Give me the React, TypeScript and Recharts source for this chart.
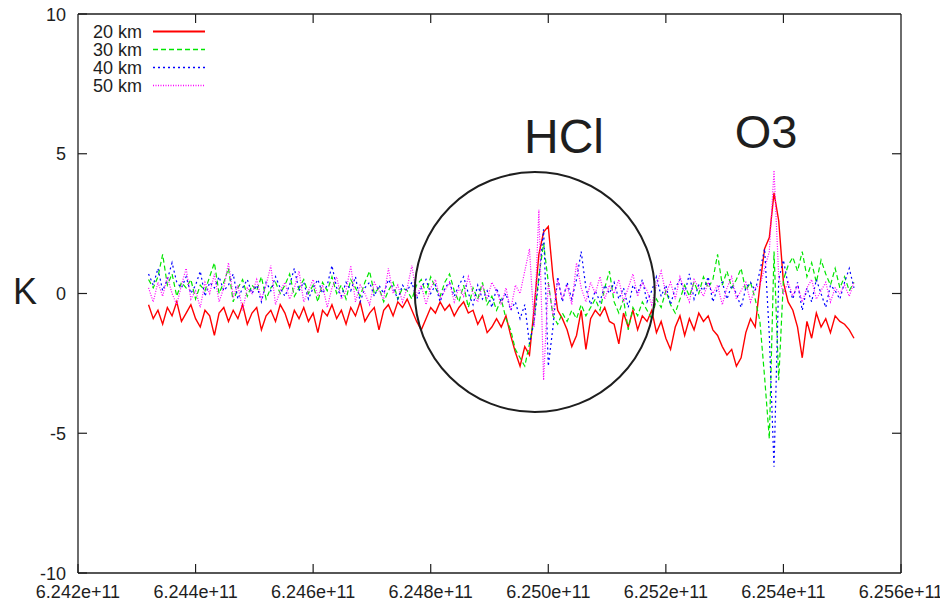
import React from 'react';
import {
  LineChart,
  Line,
  XAxis,
  YAxis,
  Legend,
  ReferenceDot,
  Customized,
} from 'recharts';

// frequency grid (Hz): first channel + spacing, 151 channels
const FREQ_START = 6.2432e11;
const FREQ_STEP = 8e6;

const X_TICKS = [6.242e11, 6.244e11, 6.246e11, 6.248e11, 6.25e11, 6.252e11, 6.254e11, 6.256e11];
const Y_TICKS = [-10, -5, 0, 5, 10];

// brightness temperature difference (K) per altitude
const km20 = [
  -0.4, -0.9, -0.6, -1.1, -0.5, -0.8, -0.3, -1.0, -0.7, -0.4,
  -0.9, -1.2, -0.6, -0.8, -1.5, -0.7, -0.5, -1.0, -0.6, -0.9,
  -0.4, -1.1, -0.7, -0.5, -1.3, -0.8, -0.6, -1.0, -0.4, -0.7,
  -1.2, -0.6, -0.9, -0.5, -1.0, -0.7, -1.4, -0.6, -0.8, -0.4,
  -0.9, -0.6, -1.1, -0.5, -0.8, -0.3, -1.0, -0.7, -0.5, -1.3,
  -0.6, -0.4, -0.8, -0.3, -0.5, -0.2, -0.6, -1.0, -1.3, -0.9,
  -0.5, -0.7, -0.3, -0.6, -0.4, -0.8, -0.5, -0.3, -0.7, -0.6,
  -1.1, -0.8, -1.4, -1.2, -0.9, -1.2, -0.8, -1.5, -2.1, -2.6,
  -1.9, -2.2, -0.5, 1.4, 2.2, 2.4, 0.6, -0.6, -0.9, -1.3,
  -1.9, -1.5, -0.6, -2.0, -0.9, -0.6, -0.8, -0.5, -1.0, -1.1,
  -1.8, -0.7, -1.2, -0.6, -1.3, -0.8, -1.0, -0.6, -1.4, -1.0,
  -1.6, -2.0, -1.2, -0.8, -1.5, -0.9, -1.3, -0.7, -1.0, -0.8,
  -1.3, -1.5, -1.9, -2.2, -2.0, -2.6, -2.3, -1.4, -0.9, -1.2,
  0.3, 1.6, 2.0, 3.6, 2.6, 0.4, -0.3, -0.6, -1.2, -2.3,
  -1.0, -1.6, -0.7, -1.2, -0.9, -1.4, -0.8, -1.0, -1.1, -1.3,
  -1.6,
];

const km30 = [
  0.5, 0.2, 0.6, 1.4, 0.3, 0.7, -0.1, 0.4, 0.2, 0.5,
  -0.2, 0.3, 0.1, 0.6, 1.1, 0.0, 0.4, 0.9, -0.3, 0.2,
  0.5, -0.1, 0.3, 0.1, 0.6, -0.2, 0.2, 0.4, 0.0, 0.3,
  0.7, -0.1, 0.2, 0.5, 0.0, 0.3, -0.3, 0.4, 0.1, 0.6,
  0.0, 0.3, -0.2, 0.5, 0.2, -0.1, 0.4, 0.8, 0.0, 0.2,
  -0.3, 0.1, 0.4, -0.2, 0.2, 0.1, -0.2, 0.3, 0.5, 0.0,
  0.6, 0.2, -0.1, 0.4, 0.7, 0.1, -0.3, 0.3, -0.5, 0.2,
  -0.2, 0.4, -0.4, -0.1, -0.6, -0.2, -0.9, -1.3, -2.0, -2.3,
  -2.6, -1.8, -0.9, 0.6, 1.8, 0.4, -0.8, -1.1, -0.7, -1.0,
  -0.6, -0.9, -0.4, -0.8, -0.5, -0.2, -0.6, 0.2, 0.8, -0.3,
  -0.7, -0.2, -1.3, -0.5, -0.8, -0.3, -0.6, -0.9, -0.2, -0.5,
  0.1, -0.4, -0.7, -0.2, 0.3, -0.1, 0.4, 0.0, 0.6, 0.2,
  0.5, 1.4, 0.3, 0.8, 0.2, 0.5, 0.9, 0.1, 0.4, -0.2,
  -1.0, -3.0, -5.2, 1.5, -3.1, 0.5, 1.0, 1.3, 0.8, 1.5,
  0.6, 1.1, 0.4, 1.2, 0.7, 0.3, 0.9, 0.2, 0.6, 0.1,
  0.4,
];

const km40 = [
  0.7, 0.3, 0.9, 0.1, 0.5, 1.1, 0.4, 0.2, 0.6, 0.0,
  0.3, 0.8, -0.1, 0.4, 0.2, 0.6, 0.1, 0.3, 0.7, -0.2,
  0.2, 0.5, 0.0, 0.3, -0.3, 0.4, 0.1, 0.6, 0.2, -0.1,
  0.3, 0.9, 0.1, 0.4, -0.2, 0.2, 0.5, 0.0, 0.3, 1.0,
  0.2, -0.1, 0.4, 0.1, 0.6, -0.3, 0.2, 0.4, -0.1, 0.3,
  0.0, 0.5, 0.2, -0.2, 0.3, 0.1, 0.4, -0.2, 0.2, 0.5,
  0.0, 0.3, -0.3, 0.2, 0.4, -0.1, 0.3, 0.6, 0.0, -0.4,
  0.3, -0.2, 0.1, -0.5, 0.2, -0.3, 0.0, -0.6, -0.3, -0.9,
  -0.4, -1.8, -1.0, 0.5, 2.3, -2.6, -1.2, 0.6, -0.3, 0.4,
  -0.2, 0.5, 1.5, 0.2, -0.4, 0.1, -0.3, 0.3, 0.0, 0.4,
  -0.2, 0.2, -0.5, 0.3, 0.0, 0.5, -0.3, 0.1, 0.6, -0.1,
  0.3, -0.4, 0.2, 0.5, 0.0, 0.7, -0.2, 0.3, 0.1, 0.6,
  -0.3, 0.2, 0.4, -0.2, 0.3, 0.0, -0.5, 0.2, 0.4, 0.1,
  0.8, 1.6, -1.5, -6.2, 0.5, 1.2, 0.3, -0.2, 0.4, -0.6,
  0.2, -0.3, 0.5, 0.0, -0.5, 0.3, 0.1, -0.2, 0.4, 0.9,
  0.2,
];

const km50 = [
  0.2, -0.3, 0.4, -0.1, 0.6, 0.0, -0.4, 0.3, 0.9, -0.2,
  0.1, -0.5, 0.4, 0.0, 0.7, -0.3, 0.2, 1.1, -0.1, 0.3,
  -0.6, 0.2, 0.0, 0.5, -0.2, 0.3, 1.0, -0.4, 0.1, 0.4,
  -0.2, 0.2, 0.8, -0.3, 0.1, 0.5, -0.1, 0.3, -0.5, 0.2,
  0.6, -0.2, 0.1, 1.0, -0.3, 0.3, 0.0, -0.4, 0.4, 0.1,
  -0.2, 0.9, 0.0, 0.3, -0.3, 0.2, 1.0, -0.1, 0.3, -0.4,
  0.2, 0.5, -0.2, 0.1, 0.4, -0.3, 0.2, -0.1, 0.6, 0.0,
  -0.3, 0.3, -0.2, 0.4, 0.1, -0.4, 0.2, -0.6, 0.3, 0.0,
  0.8, 1.6, -1.2, 3.0, -3.1, 0.4, -0.8, 0.5, -0.2, 0.3,
  -0.4, 1.1, 0.2, -0.3, 0.4, 0.0, 0.6, -0.2, 0.3, 0.0,
  0.5, -0.3, 0.2, 0.7, -0.1, 0.4, 0.1, -0.4, 0.3, 0.8,
  0.0, 0.4, -0.2, 0.6, 0.1, -0.3, 0.5, 0.2, -0.1, 0.4,
  0.0, 0.3, -0.4, 0.2, 0.6, -0.2, 0.1, 0.4, -0.3, 0.2,
  0.3, 0.9, 1.5, 4.4, 0.6, 0.0, 0.4, -0.1, 0.3, -0.3,
  0.2, 0.5, -0.2, 0.1, 0.4, -0.3, 0.2, 0.0, 0.3, -0.1,
  0.4,
];

const SERIES = [
  { key: 'km20', name: '20 km', color: '#ff0000', dash: undefined, width: 1.4 },
  { key: 'km30', name: '30 km', color: '#00e600', dash: '5 3', width: 1.2 },
  { key: 'km40', name: '40 km', color: '#0000ff', dash: '2 3', width: 1.2 },
  { key: 'km50', name: '50 km', color: '#ff00ff', dash: '1 1.5', width: 1.2 },
];

// circled HCl feature
const HCL_CENTER = { f: 6.24977e11, k: 0.05 };

const data = km20.map((v, i) => ({
  f: FREQ_START + i * FREQ_STEP,
  km20: v,
  km30: km30[i],
  km40: km40[i],
  km50: km50[i],
}));

const FONT = '"Liberation Sans", Arial, sans-serif';
const INK = '#1e1e1e';
const TICK_LEN = 9;

const fmtFreq = (v: number) => `${(v / 1e11).toFixed(3)}e+11`;

const BottomTick = ({ x, y, payload }: any) => (
  <g>
    <line x1={x} y1={y} x2={x} y2={y - TICK_LEN} stroke={INK} strokeWidth={1.2} />
    <text x={x} y={y + 25} textAnchor="middle" fontSize={18} fontFamily={FONT} fill={INK}>
      {fmtFreq(payload.value)}
    </text>
  </g>
);

const TopTick = ({ x, y }: any) => (
  <line x1={x} y1={y} x2={x} y2={y + TICK_LEN} stroke={INK} strokeWidth={1.2} />
);

const LeftTick = ({ x, y, payload }: any) => (
  <g>
    <line x1={x} y1={y} x2={x + TICK_LEN} y2={y} stroke={INK} strokeWidth={1.2} />
    <text x={x - 12} y={y + 6.5} textAnchor="end" fontSize={18} fontFamily={FONT} fill={INK}>
      {payload.value}
    </text>
  </g>
);

const RightTick = ({ x, y }: any) => (
  <line x1={x} y1={y} x2={x - TICK_LEN} y2={y} stroke={INK} strokeWidth={1.2} />
);

const KeyBox = () => (
  <svg width={130} height={80} style={{ display: 'block' }}>
    {SERIES.map((s, k) => (
      <g key={s.key}>
        <text x={5} y={11.5 + k * 18 + 6} fontSize={18} fontFamily={FONT} fill={INK}>
          {s.name}
        </text>
        <line
          x1={65}
          x2={117}
          y1={11.5 + k * 18}
          y2={11.5 + k * 18}
          stroke={s.color}
          strokeWidth={s.width + 0.4}
          strokeDasharray={s.dash}
        />
      </g>
    ))}
  </svg>
);

const Annotations = () => (
  <g fontFamily={FONT} fill={INK}>
    <text x={564} y={153} textAnchor="middle" fontSize={48}>HCl</text>
    <text x={766} y={148} textAnchor="middle" fontSize={47}>O3</text>
    <text x={25} y={304} textAnchor="middle" fontSize={36}>K</text>
  </g>
);

export default function App() {
  return (
    <div style={{ position: 'absolute', left: 0, top: 0, background: '#fff' }}>
      <LineChart width={940} height={604} data={data} margin={{ top: 0, right: 0, bottom: 0, left: 0 }}>
        <XAxis
          xAxisId="b"
          dataKey="f"
          type="number"
          domain={[X_TICKS[0], X_TICKS[X_TICKS.length - 1]]}
          ticks={X_TICKS}
          height={31}
          tickSize={0}
          tickMargin={0}
          tickLine={false}
          axisLine={{ stroke: INK, strokeWidth: 1.3 }}
          tick={<BottomTick />}
          interval={0}
          allowDataOverflow
        />
        <XAxis
          xAxisId="t"
          orientation="top"
          dataKey="f"
          type="number"
          domain={[X_TICKS[0], X_TICKS[X_TICKS.length - 1]]}
          ticks={X_TICKS.slice(1, -1)}
          height={14}
          tickSize={0}
          tickMargin={0}
          tickLine={false}
          axisLine={{ stroke: INK, strokeWidth: 1.3 }}
          tick={<TopTick />}
          interval={0}
          allowDataOverflow
        />
        <YAxis
          yAxisId="l"
          type="number"
          domain={[-10, 10]}
          ticks={Y_TICKS}
          width={78}
          tickSize={0}
          tickMargin={0}
          tickLine={false}
          axisLine={{ stroke: INK, strokeWidth: 1.3 }}
          tick={<LeftTick />}
          interval={0}
          allowDataOverflow
        />
        <YAxis
          yAxisId="r"
          orientation="right"
          type="number"
          domain={[-10, 10]}
          ticks={Y_TICKS.slice(1, -1)}
          width={39}
          tickSize={0}
          tickMargin={0}
          tickLine={false}
          axisLine={{ stroke: INK, strokeWidth: 1.3 }}
          tick={<RightTick />}
          interval={0}
          allowDataOverflow
        />
        {SERIES.map((s) => (
          <Line
            key={s.key}
            xAxisId="b"
            yAxisId="l"
            type="linear"
            dataKey={s.key}
            name={s.name}
            stroke={s.color}
            strokeWidth={s.width}
            strokeDasharray={s.dash}
            dot={false}
            activeDot={false}
            isAnimationActive={false}
          />
        ))}
        <ReferenceDot
          xAxisId="b"
          yAxisId="l"
          x={HCL_CENTER.f}
          y={HCL_CENTER.k}
          r={120}
          fill="none"
          stroke={INK}
          strokeWidth={2}
        />
        <Legend
          layout="vertical"
          align="center"
          verticalAlign="middle"
          content={() => <KeyBox />}
          wrapperStyle={{ left: 88, top: 20, width: 130, height: 80 }}
        />
        <Customized component={Annotations} />
      </LineChart>
    </div>
  );
}
